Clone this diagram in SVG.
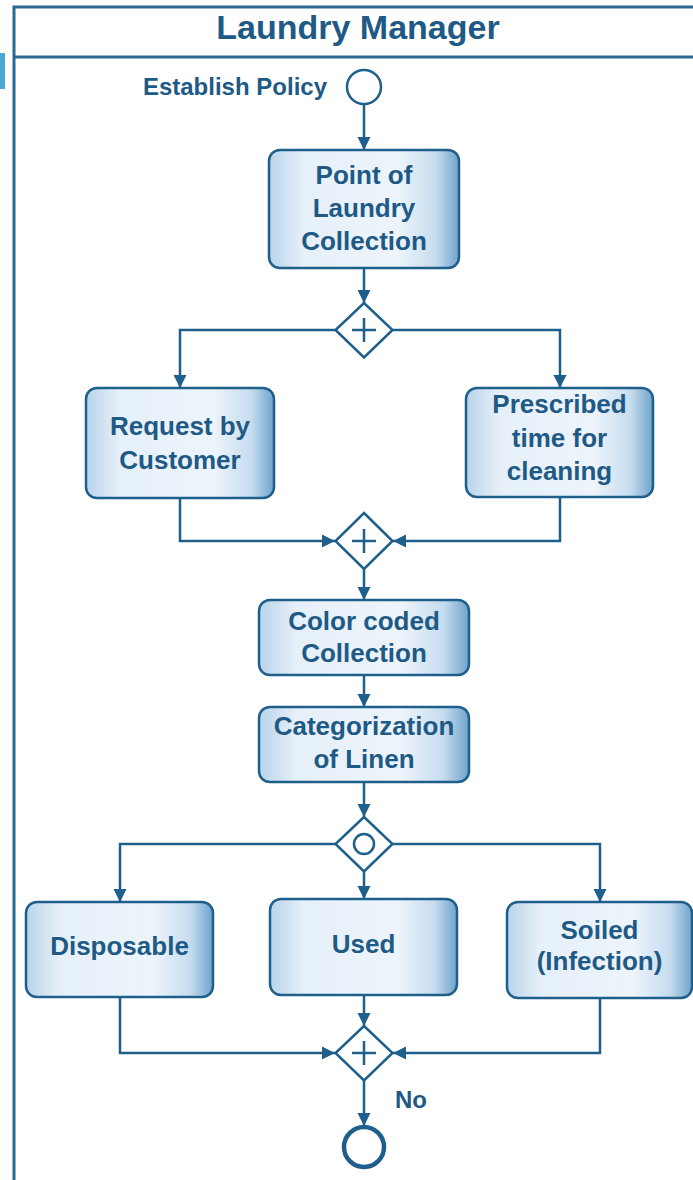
<svg xmlns="http://www.w3.org/2000/svg" width="693" height="1180" viewBox="0 0 693 1180">
  <defs>
    <linearGradient id="boxfill" x1="0" y1="0" x2="1" y2="0">
      <stop offset="0" stop-color="#b9d4ea"/>
      <stop offset="0.18" stop-color="#e6f0f9"/>
      <stop offset="0.68" stop-color="#edf4fb"/>
      <stop offset="0.88" stop-color="#c6dcee"/>
      <stop offset="1" stop-color="#6fa3cb"/>
    </linearGradient>
    <marker id="arr" markerUnits="userSpaceOnUse" markerWidth="14" markerHeight="14" refX="13" refY="7" orient="auto">
      <path d="M0,0.5 L13,7 L0,13.5 z" fill="#1f5f8c"/>
    </marker>
    <style>
      .frame { fill: none; stroke: #2a6893; stroke-width: 3; }
      .box { fill: url(#boxfill); stroke: #1f5f8c; stroke-width: 2.5; }
      .gw { fill: #ffffff; stroke: #1f5f8c; stroke-width: 2.5; }
      .sym { fill: none; stroke: #1f5f8c; stroke-width: 2.5; }
      .conn { fill: none; stroke: #1f5f8c; stroke-width: 2.5; }
      .lbl { font-family: "Liberation Sans", Arial, sans-serif; font-weight: bold; font-size: 26px; fill: #1e5a85; text-anchor: middle; }
      .title { font-family: "Liberation Sans", Arial, sans-serif; font-weight: bold; font-size: 34px; fill: #1e5a85; text-anchor: middle; }
      .small { font-family: "Liberation Sans", Arial, sans-serif; font-weight: bold; font-size: 24px; fill: #1e5a85; }
    </style>
  </defs>

  <rect x="0" y="0" width="693" height="1180" fill="#ffffff"/>

  <g id="pool">
    <rect x="0" y="53" width="5" height="36" fill="#4aa8d8"/>
    <path class="frame" d="M693,7 H14 V1180 M14,57 H693"/>
    <text class="title" x="358" y="39">Laundry Manager</text>
  </g>

  <g id="connectors">
    <line class="conn" x1="364" y1="104" x2="364" y2="150" marker-end="url(#arr)"/>
    <line class="conn" x1="364" y1="268" x2="364" y2="303" marker-end="url(#arr)"/>
    <polyline class="conn" points="335,330 180,330 180,388" marker-end="url(#arr)"/>
    <polyline class="conn" points="393,330 560,330 560,388" marker-end="url(#arr)"/>
    <polyline class="conn" points="180,498 180,541 335,541" marker-end="url(#arr)"/>
    <polyline class="conn" points="560,497 560,541 393,541" marker-end="url(#arr)"/>
    <line class="conn" x1="364" y1="569" x2="364" y2="600" marker-end="url(#arr)"/>
    <line class="conn" x1="364" y1="675" x2="364" y2="707" marker-end="url(#arr)"/>
    <line class="conn" x1="364" y1="782" x2="364" y2="817" marker-end="url(#arr)"/>
    <polyline class="conn" points="335,844 120,844 120,902" marker-end="url(#arr)"/>
    <line class="conn" x1="364" y1="872" x2="364" y2="899" marker-end="url(#arr)"/>
    <polyline class="conn" points="393,844 600,844 600,902" marker-end="url(#arr)"/>
    <polyline class="conn" points="120,997 120,1053 335,1053" marker-end="url(#arr)"/>
    <line class="conn" x1="364" y1="995" x2="364" y2="1026" marker-end="url(#arr)"/>
    <polyline class="conn" points="600,998 600,1053 393,1053" marker-end="url(#arr)"/>
    <line class="conn" x1="364" y1="1081" x2="364" y2="1126" marker-end="url(#arr)"/>
    <text class="small" x="395" y="1108">No</text>
  </g>

  <g id="start">
    <circle cx="364" cy="87" r="17" fill="#ffffff" stroke="#1f5f8c" stroke-width="2.5"/>
    <text class="small" x="327" y="95" text-anchor="end">Establish Policy</text>
  </g>

  <g id="point-of-collection">
    <rect class="box" x="269" y="150" width="190" height="118" rx="11"/>
    <text class="lbl" x="364" y="184">Point of</text>
    <text class="lbl" x="364" y="217">Laundry</text>
    <text class="lbl" x="364" y="250">Collection</text>
  </g>

  <g id="split1">
    <path class="gw" d="M364,303 L392.5,330 L364,357.5 L335.5,330 z"/>
    <path class="sym" d="M352,330 H376 M364,318 V342"/>
  </g>

  <g id="request-by-customer">
    <rect class="box" x="86" y="388" width="188" height="110" rx="11"/>
    <text class="lbl" x="180" y="435">Request by</text>
    <text class="lbl" x="180" y="469">Customer</text>
  </g>

  <g id="prescribed-time">
    <rect class="box" x="466" y="388" width="187" height="109" rx="11"/>
    <text class="lbl" x="559.5" y="413">Prescribed</text>
    <text class="lbl" x="559.5" y="447">time for</text>
    <text class="lbl" x="559.5" y="480">cleaning</text>
  </g>

  <g id="join1">
    <path class="gw" d="M364,513 L392.5,541 L364,569 L335.5,541 z"/>
    <path class="sym" d="M352,541 H376 M364,529 V553"/>
  </g>

  <g id="color-coded">
    <rect class="box" x="259" y="600" width="210" height="75" rx="11"/>
    <text class="lbl" x="364" y="630">Color coded</text>
    <text class="lbl" x="364" y="662">Collection</text>
  </g>

  <g id="categorization">
    <rect class="box" x="259" y="707" width="210" height="75" rx="11"/>
    <text class="lbl" x="364" y="735">Categorization</text>
    <text class="lbl" x="364" y="768">of Linen</text>
  </g>

  <g id="split2">
    <path class="gw" d="M364,817 L392.5,844 L364,871.5 L335.5,844 z"/>
    <circle class="sym" cx="364" cy="844" r="10"/>
  </g>

  <g id="disposable">
    <rect class="box" x="26" y="902" width="187" height="95" rx="11"/>
    <text class="lbl" x="119.5" y="955">Disposable</text>
  </g>

  <g id="used">
    <rect class="box" x="270" y="899" width="187" height="96" rx="11"/>
    <text class="lbl" x="363.5" y="953">Used</text>
  </g>

  <g id="soiled">
    <rect class="box" x="507" y="902" width="185" height="96" rx="11"/>
    <text class="lbl" x="599.5" y="939">Soiled</text>
    <text class="lbl" x="599.5" y="970">(Infection)</text>
  </g>

  <g id="join2">
    <path class="gw" d="M364,1026 L392.5,1053 L364,1080.5 L335.5,1053 z"/>
    <path class="sym" d="M352,1053 H376 M364,1041 V1065"/>
  </g>

  <g id="end">
    <circle cx="364" cy="1147" r="20" fill="#ffffff" stroke="#1f5f8c" stroke-width="4.5"/>
  </g>
</svg>
